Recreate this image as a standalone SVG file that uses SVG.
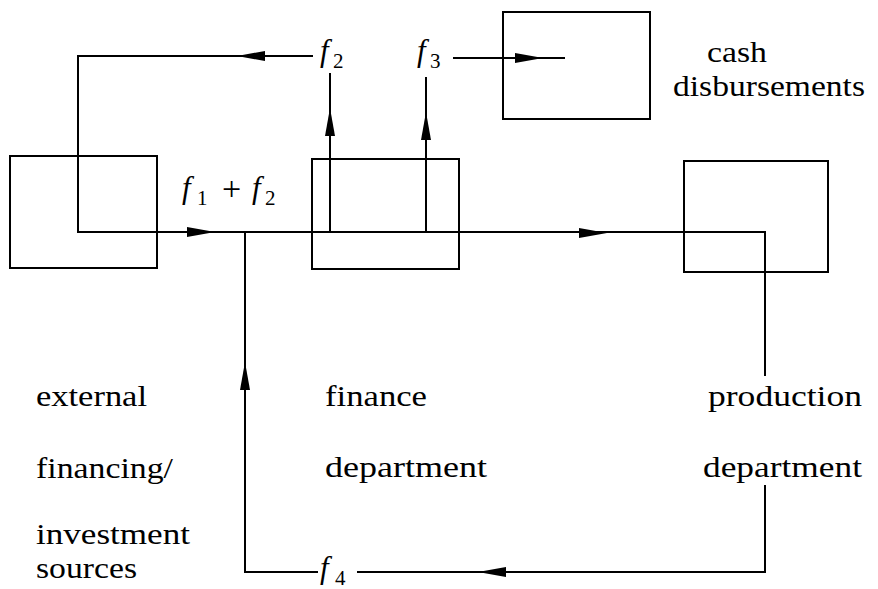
<svg xmlns="http://www.w3.org/2000/svg" xmlns:xlink="http://www.w3.org/1999/xlink" width="878" height="589" viewBox="0 0 878 589">
<style>
  .box { fill: none; stroke: #000; stroke-width: 2; }
  .wire { fill: none; stroke: #000; stroke-width: 2; }
  .lbl { font-family: "Liberation Serif", "Times New Roman", serif; font-size: 30px; fill: #000; }
  .mf { font-family: "Liberation Serif", "Times New Roman", serif; font-size: 31px; font-style: italic; fill: #000; }
  .ms { font-family: "Liberation Serif", "Times New Roman", serif; font-size: 21px; fill: #000; }
  .mo { font-family: "Liberation Serif", "Times New Roman", serif; font-size: 34px; fill: #000; }
</style>
<defs>
  <polygon id="ah" points="0,0 -28,-5 -28,5" fill="#000"/>
</defs>
<rect width="878" height="589" fill="#fff"/>

<g id="connectors">
  <path class="wire" d="M313,56 H78 V232 H765 V376"/>
  <path class="wire" d="M765,485 V572 H357"/>
  <path class="wire" d="M318,572 H245 V232"/>
  <path class="wire" d="M330,232 V73"/>
  <path class="wire" d="M426,232 V77"/>
  <path class="wire" d="M453,58 H565"/>
  <use xlink:href="#ah" transform="translate(237,56) rotate(180)"/>
  <use xlink:href="#ah" transform="translate(215,232)"/>
  <use xlink:href="#ah" transform="translate(607,233)"/>
  <use xlink:href="#ah" transform="translate(330,108) rotate(-90)"/>
  <use xlink:href="#ah" transform="translate(426,112) rotate(-90)"/>
  <use xlink:href="#ah" transform="translate(543,58)"/>
  <use xlink:href="#ah" transform="translate(245,362) rotate(-90)"/>
  <use xlink:href="#ah" transform="translate(478,572) rotate(180)"/>
</g>

<g id="external">
  <rect class="box" x="10" y="156" width="147" height="112"/>
  <text class="lbl" x="36" y="406" textLength="111" lengthAdjust="spacingAndGlyphs">external</text>
  <text class="lbl" x="36" y="478" textLength="137" lengthAdjust="spacingAndGlyphs">financing/</text>
  <text class="lbl" x="36" y="544" textLength="154" lengthAdjust="spacingAndGlyphs">investment</text>
  <text class="lbl" x="36" y="578" textLength="101" lengthAdjust="spacingAndGlyphs">sources</text>
</g>

<g id="finance">
  <rect class="box" x="312" y="159" width="147" height="110"/>
  <text class="lbl" x="325" y="406" textLength="102" lengthAdjust="spacingAndGlyphs">finance</text>
  <text class="lbl" x="325" y="477" textLength="162" lengthAdjust="spacingAndGlyphs">department</text>
</g>

<g id="production">
  <rect class="box" x="684" y="161" width="144" height="111"/>
  <text class="lbl" x="708" y="406" textLength="154" lengthAdjust="spacingAndGlyphs">production</text>
  <text class="lbl" x="703" y="477" textLength="159" lengthAdjust="spacingAndGlyphs">department</text>
</g>

<g id="cash">
  <rect class="box" x="503" y="12" width="147" height="107"/>
  <text class="lbl" x="707" y="62" textLength="60" lengthAdjust="spacingAndGlyphs">cash</text>
  <text class="lbl" x="673" y="96" textLength="192" lengthAdjust="spacingAndGlyphs">disbursements</text>
</g>

<g id="labels">
  <text x="320" y="61"><tspan class="mf">f</tspan><tspan class="ms" x="333" y="68">2</tspan></text>
  <text x="417" y="61"><tspan class="mf">f</tspan><tspan class="ms" x="430" y="68">3</tspan></text>
  <text x="182" y="198"><tspan class="mf">f</tspan><tspan class="ms" x="197" y="205">1</tspan><tspan class="mo" x="222" y="200">+</tspan><tspan class="mf" x="252" y="198">f</tspan><tspan class="ms" x="265" y="205">2</tspan></text>
  <text x="320" y="578"><tspan class="mf">f</tspan><tspan class="ms" x="335" y="585">4</tspan></text>
</g>
</svg>
